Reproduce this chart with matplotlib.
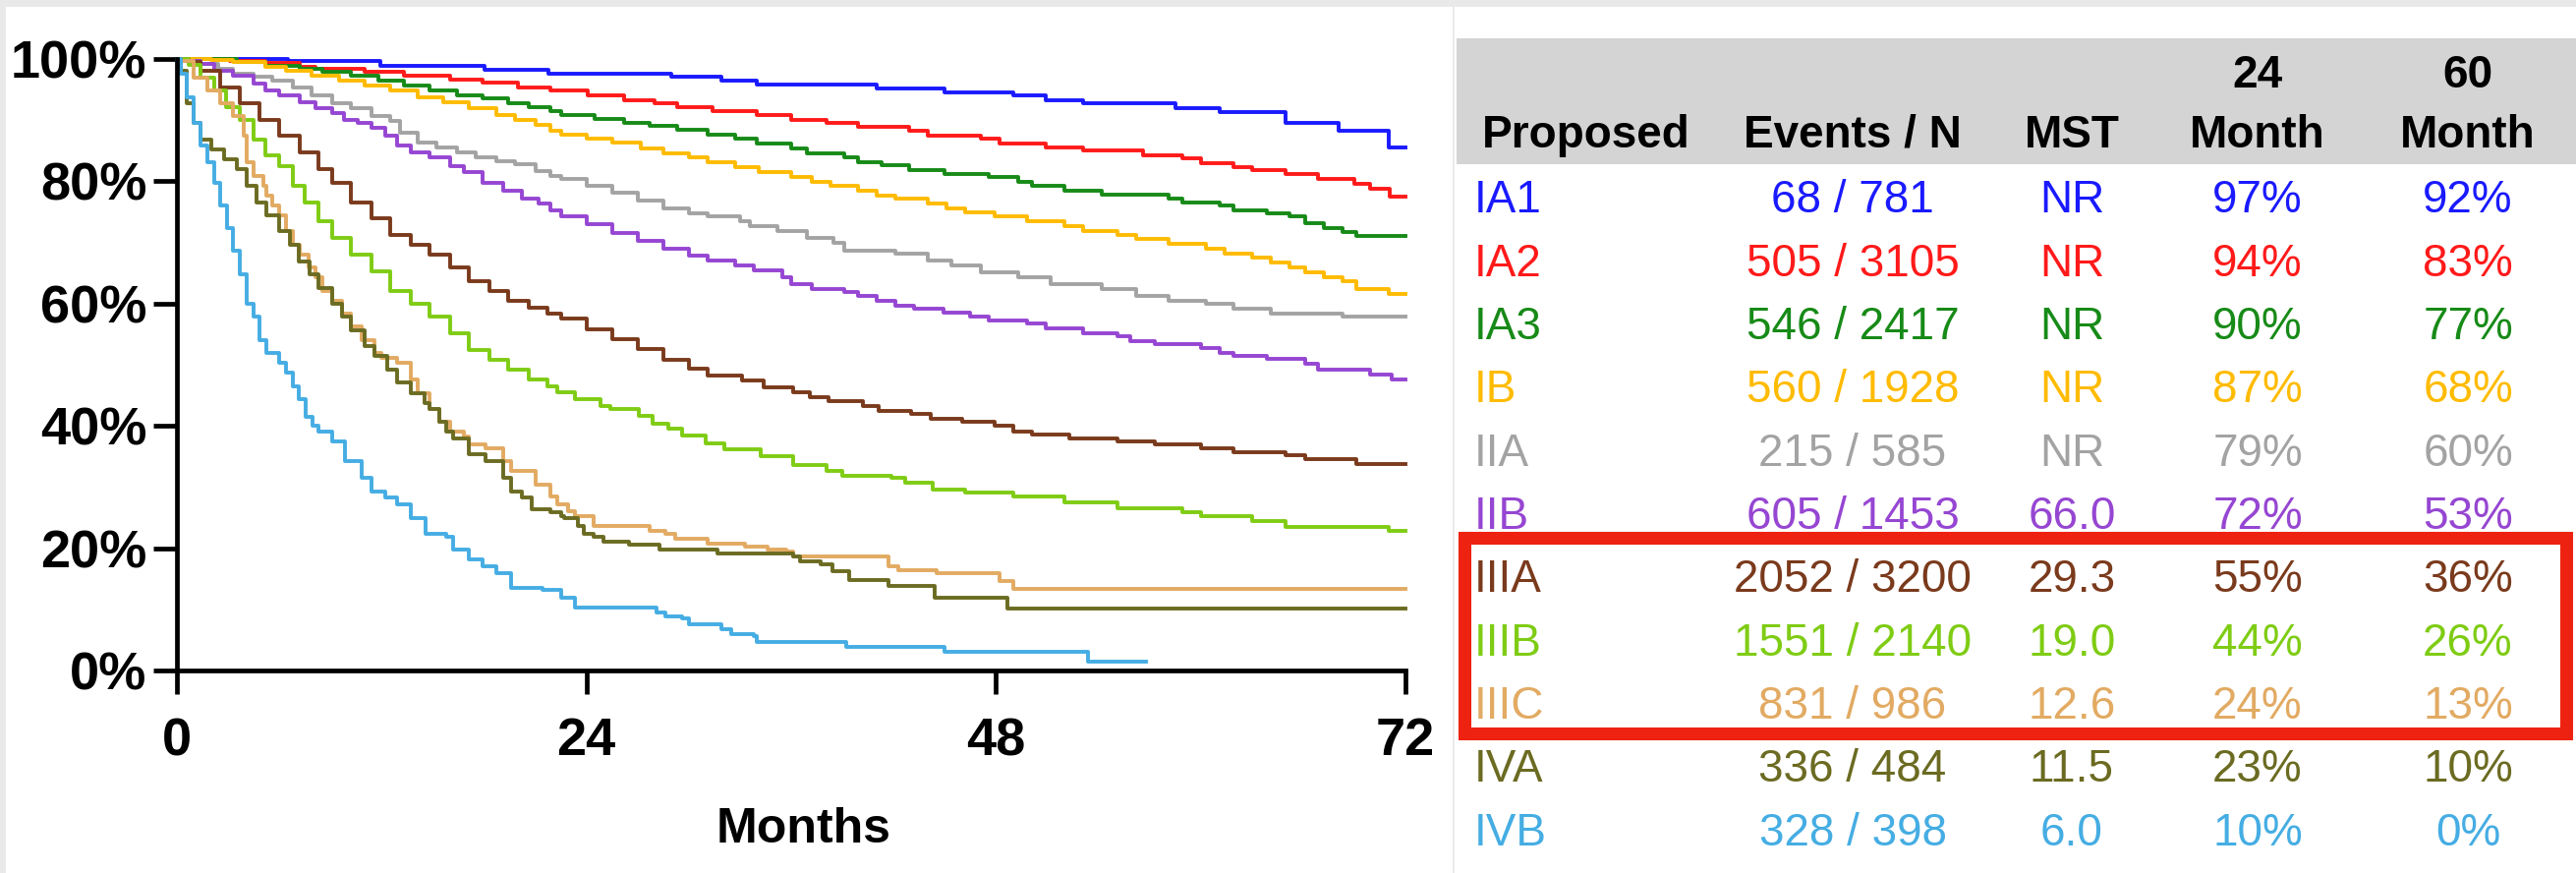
import matplotlib
matplotlib.use('Agg')
import matplotlib.pyplot as plt
from matplotlib.patches import Rectangle

plt.rcParams['font.family'] = ['Liberation Sans', 'DejaVu Sans']

# stage table
stages = ['IA1', 'IA2', 'IA3', 'IB', 'IIA', 'IIB', 'IIIA', 'IIIB', 'IIIC', 'IVA', 'IVB']
events = ['68 / 781', '505 / 3105', '546 / 2417', '560 / 1928', '215 / 585', '605 / 1453',
          '2052 / 3200', '1551 / 2140', '831 / 986', '336 / 484', '328 / 398']
mst = ['NR', 'NR', 'NR', 'NR', 'NR', '66.0', '29.3', '19.0', '12.6', '11.5', '6.0']
surv24 = ['97%', '94%', '90%', '87%', '79%', '72%', '55%', '44%', '24%', '23%', '10%']
surv60 = ['92%', '83%', '77%', '68%', '60%', '53%', '36%', '26%', '13%', '10%', '0%']
colors = ['#1a1aff', '#ff1a1a', '#178a17', '#ffbb00', '#a3a3a3', '#9646d2',
          '#7a3a1c', '#7fcc14', '#e2aa62', '#6b6b22', '#45ade3']

# KM curves: (month, survival %)
ia1 = [(0, 100), (6.5, 99.6), (11.9, 98.9), (18.0, 98.2), (21.8, 97.6), (29.0, 97.1), (31.9, 96.5),
       (34.0, 95.8), (41.0, 95.2), (45.0, 94.6), (49.0, 94.0), (50.9, 93.3), (53.1, 92.7), (58.5, 92.0),
       (61.1, 91.3), (65.0, 89.6), (68.1, 88.2), (71.0, 85.5), (72, 85.5)]
ia2 = [(0, 100), (3.1, 99.7), (5.2, 99.3), (7.2, 98.7), (8.1, 98.4), (11.0, 97.9), (13.3, 97.3),
       (16.0, 96.6), (17.9, 96.1), (20.0, 95.4), (21.9, 94.9), (24.1, 94.0), (26.2, 93.3), (28.0, 92.8),
       (29.3, 92.1), (31.4, 91.5), (34.0, 90.8), (36.0, 90.1), (38.1, 89.5), (39.9, 88.9), (42.9, 88.2),
       (44.0, 87.5), (47.1, 86.9), (48.2, 86.2), (50.9, 85.5), (53.1, 85.0), (56.6, 84.3), (58.9, 83.7),
       (60.0, 83.0), (61.9, 82.3), (63.0, 81.9), (65.0, 81.2), (66.9, 80.4), (69.0, 79.6), (69.9, 78.8),
       (71.1, 77.5), (72, 77.5)]
ia3 = [(0, 100), (3.5, 99.5), (5.2, 98.9), (7.2, 98.4), (8.5, 97.9), (10.2, 97.2), (11.8, 96.5),
       (13.3, 95.7), (14.8, 94.9), (16.4, 94.1), (17.9, 93.6), (19.4, 92.8), (20.6, 92.1), (21.9, 91.4),
       (22.5, 90.9), (24.5, 90.2), (26.2, 89.6), (27.7, 89.0), (29.3, 88.4), (31.1, 87.7), (32.7, 86.9),
       (34.0, 86.1), (36.0, 85.3), (36.9, 84.5), (39.1, 83.9), (39.9, 83.1), (41.3, 82.6), (42.9, 81.9),
       (45.0, 81.2), (47.6, 80.7), (49.3, 79.9), (50.1, 79.2), (52.0, 78.5), (54.2, 77.8), (58.1, 77.2),
       (58.9, 76.6), (61.1, 76.0), (61.9, 75.3), (63.9, 74.8), (65.2, 74.2), (66.1, 73.2), (67.2, 72.4),
       (68.3, 71.7), (69.1, 71.0), (72, 71.0)]
ib = [(0, 100), (2.0, 99.8), (3.3, 99.5), (5.2, 98.7), (6.4, 98.1), (7.9, 97.3), (9.5, 96.5),
      (11.0, 95.7), (12.5, 94.9), (14.1, 93.8), (15.6, 93.0), (17.1, 91.9), (18.7, 90.9), (19.8, 90.1),
      (21.0, 89.3), (21.9, 88.2), (22.5, 87.6), (24.0, 87.0), (25.5, 86.3), (27.2, 85.3), (28.5, 84.5),
      (30.0, 83.9), (31.1, 83.1), (32.7, 82.3), (34.1, 81.5), (36.0, 80.7), (37.2, 79.9), (38.3, 79.2),
      (39.9, 78.5), (41.0, 77.7), (42.1, 77.1), (44.0, 76.4), (45.1, 75.6), (46.2, 74.9), (47.9, 74.2),
      (49.8, 73.4), (52.0, 72.6), (53.1, 71.9), (55.1, 71.2), (56.2, 70.5), (58.1, 69.7), (60.3, 68.9),
      (61.4, 68.1), (63.0, 67.5), (64.1, 66.7), (65.2, 65.9), (66.1, 65.1), (67.2, 64.3), (68.3, 63.7),
      (69.1, 62.4), (71.0, 61.6), (72, 61.6)]
iia = [(0, 100), (0.6, 99.6), (1.4, 99.2), (2.4, 98.4), (3.3, 97.6), (4.5, 97.1), (5.6, 96.5),
       (6.8, 95.4), (7.9, 94.1), (9.1, 92.8), (10.2, 91.9), (11.4, 90.6), (12.5, 89.8), (13.1, 87.9),
       (14.1, 86.3), (15.2, 85.5), (16.4, 84.7), (17.5, 83.9), (18.7, 83.3), (19.8, 82.8), (21.0, 81.7),
       (21.9, 80.9), (22.5, 80.4), (24.0, 79.3), (25.5, 78.2), (27.0, 76.8), (28.5, 75.6), (30.0, 74.8),
       (31.1, 74.2), (33.0, 73.4), (33.6, 72.6), (35.2, 71.8), (36.9, 70.8), (38.5, 69.9), (39.1, 68.6),
       (42.1, 68.1), (44.0, 67.0), (45.4, 66.2), (47.1, 65.1), (49.3, 64.3), (51.2, 63.2), (54.2, 62.4),
       (56.2, 61.3), (58.1, 60.5), (60.3, 60.0), (61.9, 59.2), (64.1, 58.4), (68.3, 57.8), (72, 57.8)]
iib = [(0, 100), (0.4, 99.6), (1.4, 99.2), (2.2, 98.1), (3.3, 97.3), (4.5, 96.0), (5.2, 94.9),
       (6.0, 94.1), (7.2, 93.0), (8.1, 91.9), (9.1, 91.1), (9.8, 90.1), (10.6, 89.5), (11.4, 88.7),
       (12.2, 87.4), (12.9, 85.8), (13.7, 84.7), (14.8, 83.9), (16.0, 82.5), (16.8, 81.5), (17.9, 79.8),
       (19.1, 78.5), (20.2, 77.2), (21.2, 76.4), (21.9, 75.3), (22.5, 74.2), (24.0, 73.0), (25.5, 71.6),
       (27.0, 70.3), (28.5, 69.0), (30.0, 67.8), (31.1, 67.0), (32.7, 66.2), (33.8, 65.4), (35.5, 64.3),
       (36.0, 63.2), (37.2, 62.4), (39.1, 61.9), (39.9, 61.3), (41.0, 60.5), (42.1, 59.7), (43.2, 59.2),
       (44.9, 58.5), (46.5, 57.8), (47.6, 57.3), (49.8, 56.8), (50.9, 56.0), (53.1, 55.2), (55.1, 54.6),
       (55.9, 53.8), (57.3, 53.3), (60.0, 52.7), (61.1, 51.9), (61.9, 51.4), (63.9, 50.9), (66.1, 50.1),
       (66.9, 49.2), (69.9, 48.4), (71.2, 47.6), (72, 47.6)]
iiia = [(0, 100), (0.7, 99.5), (1.4, 98.1), (2.55, 95.4), (3.7, 92.8), (4.85, 90.1), (6.0, 87.4),
        (7.2, 84.7), (8.3, 82.0), (9.1, 79.8), (10.2, 76.6), (11.4, 73.9), (12.5, 71.2), (13.7, 69.6),
        (14.8, 68.0), (16.0, 65.9), (17.1, 63.7), (18.3, 62.1), (19.4, 60.5), (20.6, 59.4), (21.7, 58.3),
        (22.5, 57.5), (24.0, 55.8), (25.5, 54.2), (27.0, 52.5), (28.5, 50.8), (30.0, 49.3), (31.1, 48.2),
        (33.1, 47.4), (34.4, 46.3), (36.1, 45.5), (37.1, 44.7), (38.2, 44.1), (40.2, 43.3), (41.1, 42.5),
        (43.0, 42.0), (44.2, 41.2), (46.0, 40.6), (47.9, 40.0), (49.0, 39.0), (50.1, 38.6), (52.3, 37.9),
        (55.1, 37.4), (57.3, 36.9), (60.0, 36.3), (61.9, 35.7), (65.0, 35.2), (66.1, 34.5), (69.1, 33.7),
        (72, 33.7)]
iiib = [(0, 100), (0.7, 99.0), (1.4, 97.0), (2.2, 94.9), (2.9, 92.2), (3.7, 90.1), (4.5, 86.8),
        (5.2, 84.2), (6.0, 82.5), (6.8, 79.3), (7.5, 76.6), (8.3, 73.4), (9.1, 70.7), (10.2, 68.0),
        (11.4, 65.3), (12.5, 62.1), (13.7, 60.0), (14.8, 57.8), (16.0, 55.1), (17.1, 52.4), (18.3, 50.8),
        (19.4, 49.2), (20.6, 47.6), (21.7, 46.5), (22.3, 45.5), (23.3, 44.4), (24.8, 43.3), (25.4, 42.8),
        (27.1, 41.7), (27.9, 40.4), (28.8, 39.6), (29.6, 38.5), (31.0, 37.1), (32.1, 36.1), (34.2, 35.0),
        (36.1, 33.6), (38.1, 32.6), (39.0, 31.8), (41.9, 31.5), (42.7, 30.7), (44.3, 29.6), (46.2, 29.1),
        (49.0, 28.5), (52.0, 27.5), (55.1, 26.6), (58.9, 25.9), (60.0, 25.3), (63.0, 24.5), (65.0, 23.4),
        (71.0, 22.8), (72, 22.8)]
iiic = [(0, 100), (0.25, 99.7), (1.0, 97.0), (1.8, 94.9), (2.55, 92.8), (3.3, 90.6), (3.9, 87.4),
        (4.1, 83.1), (4.5, 80.9), (5.05, 79.3), (5.25, 77.7), (5.6, 76.1), (6.0, 74.5), (6.4, 71.8),
        (6.8, 69.6), (7.2, 68.0), (7.7, 65.9), (8.1, 64.3), (8.5, 62.1), (9.1, 60.5), (9.65, 58.3),
        (10.2, 56.2), (10.8, 54.0), (11.6, 51.9), (12.0, 51.1), (12.9, 50.3), (13.7, 47.6), (14.1, 45.4),
        (14.8, 42.7), (15.4, 40.6), (16.0, 39.0), (16.8, 38.3), (17.1, 36.9), (18.1, 36.3), (19.1, 34.2),
        (19.6, 32.6), (21.0, 30.4), (21.9, 28.5), (22.3, 27.2), (22.9, 26.1), (23.3, 25.3), (24.4, 23.7),
        (27.7, 22.9), (28.6, 22.4), (29.2, 21.5), (31.1, 20.7), (33.3, 20.2), (34.6, 19.7), (35.7, 19.4),
        (36.1, 18.6), (41.7, 17.0), (42.3, 16.4), (44.5, 15.9), (48.2, 14.6), (49.0, 13.3), (72, 13.3)]
iva = [(0, 100), (0.25, 98.1), (0.6, 92.8), (1.0, 89.5), (1.4, 86.8), (2.0, 85.2), (2.75, 83.6),
       (3.5, 82.0), (4.1, 79.3), (4.65, 76.6), (5.25, 74.5), (6.0, 71.8), (6.6, 69.6), (7.15, 66.9),
       (7.75, 64.8), (8.3, 62.6), (9.1, 60.0), (9.65, 57.8), (10.2, 55.7), (11.0, 53.0), (11.6, 51.4),
       (12.3, 49.2), (12.9, 47.1), (13.7, 45.4), (14.5, 43.8), (14.8, 42.7), (15.4, 40.6), (15.8, 39.0),
       (16.2, 38.0), (17.1, 35.3), (18.1, 34.2), (19.1, 31.5), (19.6, 29.3), (20.2, 28.3), (20.8, 26.4),
       (21.9, 25.9), (22.5, 25.3), (22.7, 25.0), (23.5, 23.7), (23.85, 22.4), (24.4, 21.8), (25.0, 21.0),
       (26.5, 20.5), (28.3, 19.7), (31.7, 19.1), (36.1, 18.6), (36.5, 17.8), (37.7, 17.3), (38.4, 16.2),
       (39.4, 14.8), (41.7, 13.8), (44.4, 11.9), (48.7, 10.2), (72, 10.2)]
ivb = [(0, 100), (0.25, 97.6), (0.6, 93.8), (1.0, 89.5), (1.4, 85.8), (1.8, 83.1), (2.2, 79.8),
       (2.55, 76.1), (2.95, 72.3), (3.3, 68.6), (3.7, 64.8), (4.1, 60.0), (4.5, 57.8), (4.85, 54.0),
       (5.25, 51.9), (6.0, 50.3), (6.4, 48.7), (6.8, 46.5), (7.15, 44.4), (7.55, 41.5), (7.95, 40.1),
       (8.3, 39.0), (9.1, 37.4), (9.85, 34.2), (10.8, 31.5), (11.4, 29.3), (12.2, 28.3), (12.9, 27.2),
       (13.7, 25.0), (14.6, 22.4), (15.8, 21.8), (16.2, 19.7), (17.1, 18.1), (17.9, 17.0), (18.7, 15.9),
       (19.6, 13.5), (21.4, 13.2), (22.5, 11.9), (23.3, 10.3), (28.1, 9.5), (28.6, 8.9), (29.6, 8.6),
       (30.0, 7.6), (31.9, 6.8), (32.5, 6.0), (33.8, 5.7), (34.0, 4.6), (39.2, 3.8), (45.0, 3.1),
       (53.4, 1.4), (56.8, 1.4)]
curves = [ia1, ia2, ia3, ib, iia, iib, iiia, iiib, iiic, iva, ivb]

W, H = 2621, 888
fig = plt.figure(figsize=(W / 100, H / 100), dpi=100, facecolor='#e9e9e9')


def fbox(x0, y0, x1, y1, **kw):
    # rectangle in pixel coords, origin top-left
    r = Rectangle((x0 / W, 1 - y1 / H), (x1 - x0) / W, (y1 - y0) / H,
                  transform=fig.transFigure, **kw)
    fig.add_artist(r)


def ftext(x, y, s, **kw):
    fig.text(x / W, 1 - y / H, s, **kw)


# white panels
fbox(6, 7, 1478, H, facecolor='white', edgecolor='none', zorder=-5)
fbox(1480, 7, W, H, facecolor='white', edgecolor='none', zorder=-5)

# survival plot
ax = fig.add_axes([180 / W, 206 / H, 1250 / W, 622 / H])
ax.set_facecolor('none')
for curve, c in zip(curves, colors):
    t = [p[0] for p in curve]
    s = [p[1] for p in curve]
    ax.plot(t, s, drawstyle='steps-post', color=c, lw=2.8, clip_on=False)

ax.set_xlim(0, 72)
ax.set_ylim(0, 100)
ax.set_xticks([0, 24, 48, 72])
ax.set_xticklabels(['0', '24', '48', '72'])
ax.set_yticks([0, 20, 40, 60, 80, 100])
ax.set_yticklabels(['0%', '20%', '40%', '60%', '80%', '100%'])
for sp in ['top', 'right']:
    ax.spines[sp].set_visible(False)
for sp in ['left', 'bottom']:
    ax.spines[sp].set_linewidth(3.4)
ax.tick_params(axis='both', direction='out', length=17, width=3.4, labelsize=39)
ax.tick_params(axis='x', pad=17)
ax.tick_params(axis='y', pad=5)
for lab in ax.get_xticklabels() + ax.get_yticklabels():
    lab.set_fontweight('bold')
ax.set_xlabel('Months', fontsize=36, fontweight='bold')
ax.xaxis.set_label_coords((818 - 180) / 1250, (682 - 857) / 622)
ax.xaxis.label.set_verticalalignment('baseline')

# table header
fbox(1482, 39, W, 167, facecolor='#d4d4d4', edgecolor='none', zorder=-4)
col_x = [1885, 2108, 2297, 2511]
hdr = dict(fontsize=33, fontweight='bold', color='black', va='baseline', ha='center')
ftext(1614, 150, 'Proposed', **hdr)
ftext(col_x[0], 150, 'Events / N', **hdr)
ftext(col_x[1], 150, 'MST', **hdr)
ftext(col_x[2], 89, '24', **hdr)
ftext(col_x[2], 150, 'Month', **hdr)
ftext(col_x[3], 89, '60', **hdr)
ftext(col_x[3], 150, 'Month', **hdr)

# table rows
for i, name in enumerate(stages):
    yb = 216.5 + 64.3 * i
    c = colors[i]
    ftext(1500, yb, name, fontsize=33, color=c, va='baseline', ha='left')
    for x, s in zip(col_x, [events[i], mst[i], surv24[i], surv60[i]]):
        ftext(x, yb, s, fontsize=33, color=c, va='baseline', ha='center')

# highlight box around stage III rows
fbox(1489.5, 546.5, 2610.5, 745.5, facecolor='none', edgecolor='#ee2211', lw=9.4, zorder=5)

fig.savefig('out.png', dpi=100, facecolor=fig.get_facecolor())
